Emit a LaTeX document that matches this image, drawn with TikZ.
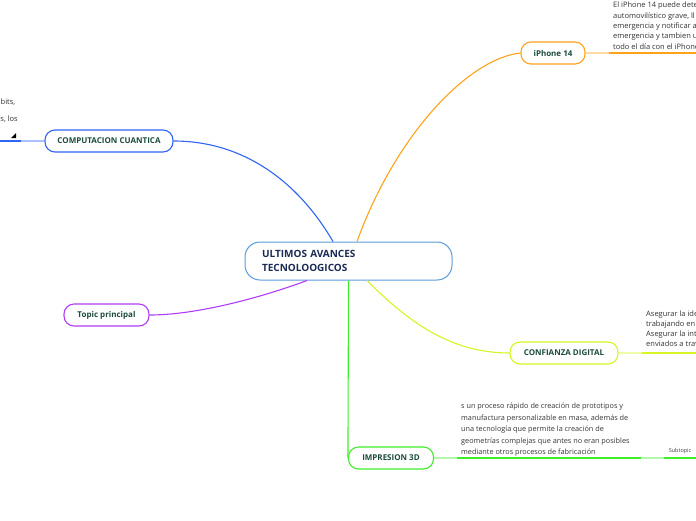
\documentclass[tikz,border=0pt]{standalone}
\usepackage{fontspec}
\setmainfont{Open Sans}
\usetikzlibrary{positioning, calc}

\definecolor{topicblue}{HTML}{2F64F5}
\definecolor{topicorange}{HTML}{FFA21A}
\definecolor{topicpurple}{HTML}{B03CF5}
\definecolor{topiclime}{HTML}{D6F522}
\definecolor{topicgreen}{HTML}{3FEE2A}
\definecolor{mainborder}{HTML}{5A9BDB}
\definecolor{maintext}{HTML}{1B2B55}
\definecolor{topictext}{HTML}{1C4B3D}

\begin{document}
\begin{tikzpicture}[x=1pt, y=-1pt,
    topic/.style={draw=#1, line width=1.1pt, fill=white, rounded corners=10pt,
        minimum height=22pt, inner xsep=0pt, text=topictext,
        font=\fontsize{8}{9}\selectfont\bfseries},
    branch/.style={line width=1.1pt, #1},
    stub/.style={line width=1.3pt, #1!40},
    under/.style={line width=2pt, #1},
    note/.style={font=\fontsize{7.5}{10.3}\selectfont, text=black!80,
        align=left, inner sep=0pt}]
    \useasboundingbox (0,0) rectangle (696,520);
    % central topic
    \node[draw=mainborder, line width=1pt, fill=white, rounded corners=15pt,
        minimum width=207pt, minimum height=38pt, text width=173pt, align=left,
        font=\fontsize{10}{14}\selectfont\bfseries, text=maintext]
        (main) at (348.5,261) {ULTIMOS AVANCES\\TECNOLOOGICOS};
    % main topics
    \node[topic=topicorange, minimum width=64pt] (iphone) at (553,53) {iPhone 14};
    \node[topic=topicblue, minimum width=128pt] (cuantica) at (109,141) {COMPUTACION CUANTICA};
    \node[topic=topicpurple, minimum width=85pt] (principal) at (106.5,315) {Topic principal};
    \node[topic=topiclime, minimum width=108pt] (confianza) at (564,353) {CONFIANZA DIGITAL};
    \node[topic=topicgreen, minimum width=85pt] (impresion) at (391,458) {IMPRESION 3D};
    % branches
    \draw[branch=topicblue] ($(main.north)+(-15.5,0)$) .. controls +(-35,-60) and +(70,0) .. (cuantica.east);
    \draw[branch=topicorange] ($(main.north)+(8.5,0)$) .. controls +(40,-110) and +(-50,5) .. (iphone.west);
    \draw[branch=topicpurple] ($(main.south)+(-41.5,0)$) .. controls +(-40,15) and +(50,0) .. (principal.east);
    \draw[branch=topiclime] ($(main.south)+(18.5,0)$) .. controls +(40,40) and +(-60,0) .. (confianza.west);
    \draw[branch=topicgreen] (main.south) -- (impresion.west);
    % iPhone 14
    \draw[stub=topicorange] (iphone.east) -- ++(23,0) coordinate (iphone line);
    \draw[under=topicorange] (iphone line) -- (696,53);
    \node[note, anchor=north west] (iphone text) at (613,2)
        {El iPhone 14 puede dete\\automovilístico grave, ll\\emergencia y notificar a\\emergencia y tambien u\\todo el día con el iPhone};
    % computacion cuantica
    \draw[stub=topicblue] (cuantica.west) -- ++(-23,0) coordinate (cuantica line);
    \draw[under=topicblue] (cuantica line) -- (0,141);
    \node[note, anchor=west] (bits) at (0.5,102) {bits,};
    \node[note, anchor=east] (los) at (18,119) {s, los};
    \fill (11,138) -- (16,138) -- (16,133) -- cycle;
    % confianza digital
    \draw[stub=topiclime] (confianza.east) -- ++(23,0) coordinate (confianza line);
    \draw[under=topiclime] (confianza line) -- (696,353);
    \node[note, anchor=north west, font=\fontsize{7.5}{9.8}\selectfont] (confianza text) at (646,311)
        {Asegurar la ide\\trabajando en\\Asegurar la int\\enviados a trav};
    % impresion 3D
    \draw[stub=topicgreen] (impresion.east) -- ++(23,0) coordinate (impresion line);
    \draw[under=topicgreen] (impresion line) -- ++(184,0) coordinate (sub line);
    \draw[stub=topicgreen] (sub line) -- ++(23,0) coordinate (sub end);
    \draw[under=topicgreen] (sub end) -- (696,458);
    \node[note, anchor=north west, font=\fontsize{7.3}{11.5}\selectfont] (impresion text) at (461,403)
        {s un proceso rápido de creación de prototipos y\\manufactura personalizable en masa, además de\\una tecnología que permite la creación de\\geometrías complejas que antes no eran posibles\\mediante otros procesos de fabricación};
    \node[font=\fontsize{5.5}{6}\selectfont, text=black!75, inner sep=0pt] (subtopic) at (680,451) {Subtopic};
\end{tikzpicture}
\end{document}
